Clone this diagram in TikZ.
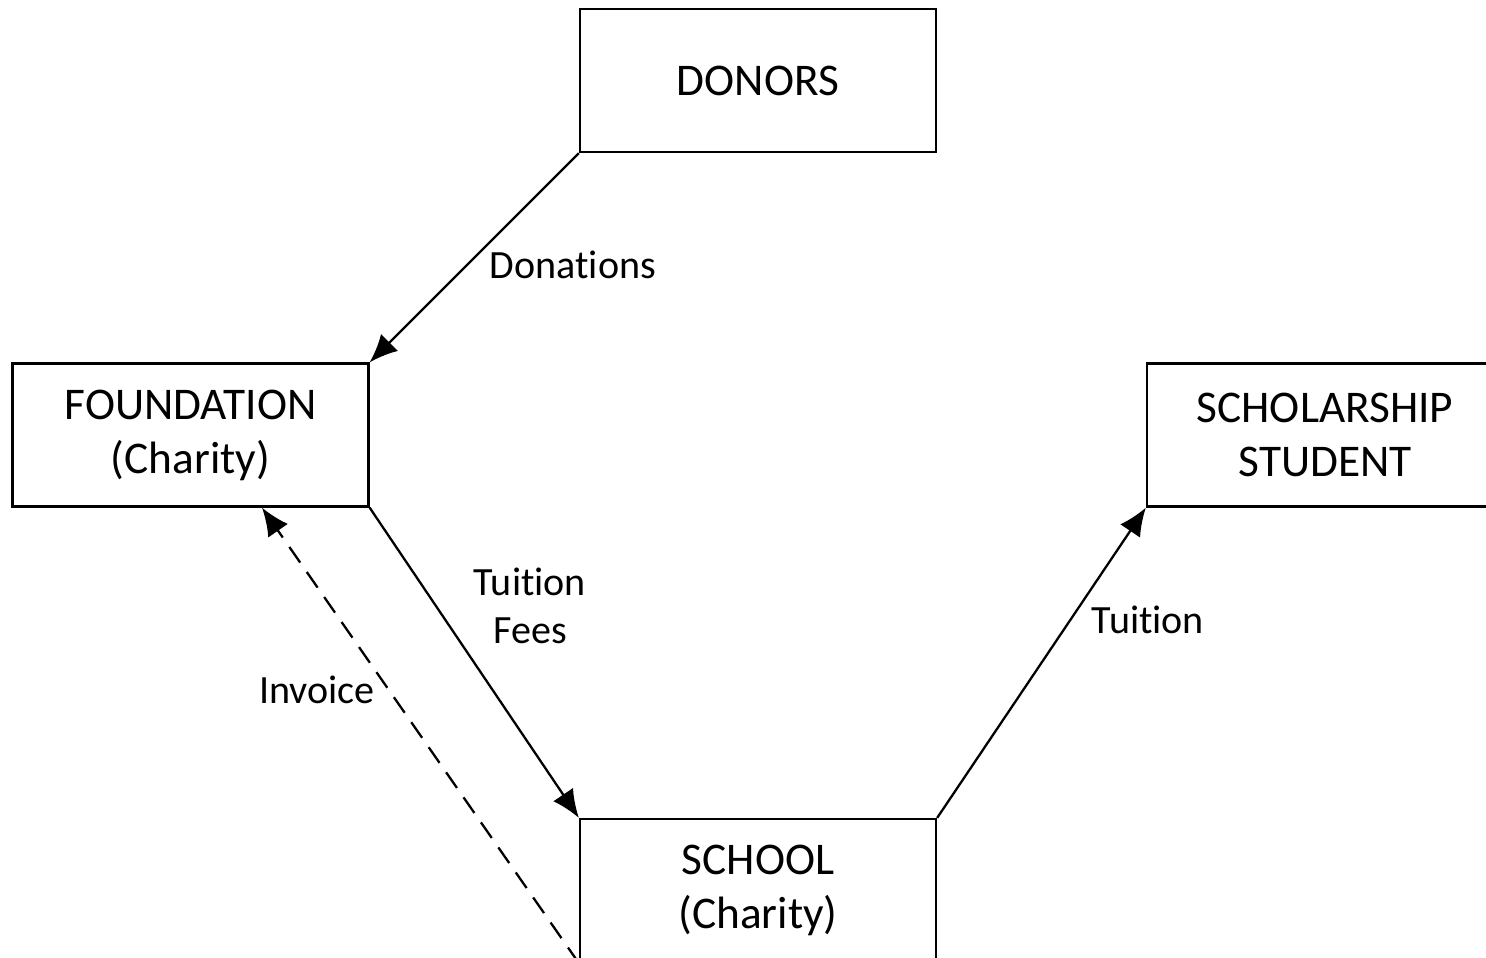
\documentclass[tikz,border=0pt]{standalone}
\usepackage{fontspec}
\setmainfont[Ligatures=NoCommon]{Carlito}
\usetikzlibrary{arrows.meta}
\begin{document}
\begin{tikzpicture}[x=0.1mm,y=-0.1mm,
    party/.style={draw,line width=0.65pt,minimum width=35.6mm,minimum height=14.3mm,
      inner sep=0pt,align=center,font=\fontsize{12.9}{15.4}\selectfont},
    flowlabel/.style={align=center,font=\fontsize{11.4}{13.8}\selectfont},
    flow/.style={line width=0.65pt,-{Latex[length=2.8mm,width=2.4mm]}}]
      \useasboundingbox (0,0) rectangle (1486,957);
      \clip (0,0) rectangle (1486,957);

      \node[party] (donors) at (758,80.5) {DONORS};
      \node[party] (foundation) at (190.5,435) {FOUNDATION\\(Charity)};
      \node[party] (student) at (1325,435) {SCHOLARSHIP\\STUDENT};
      \node[party] (school) at (758,890.5) {SCHOOL\\(Charity)};

      \draw[flow] (donors.south west) -- (foundation.north east);
      \draw[flow] (foundation.south east) -- (school.north west);
      \draw[flow] (school.north east) -- (student.south west);
      \draw[flow,dash pattern=on 1.9mm off 1.15mm] (school.south west) -- ([xshift=7.15mm]foundation.south);

      \node[flowlabel] (donations) at (573,265) {Donations};
      \node[flowlabel] (fees) at (530,606) {Tuition\\Fees};
      \node[flowlabel] (invoice) at (317,690) {Invoice};
      \node[flowlabel] (tuition) at (1148,620) {Tuition};
\end{tikzpicture}
\end{document}
